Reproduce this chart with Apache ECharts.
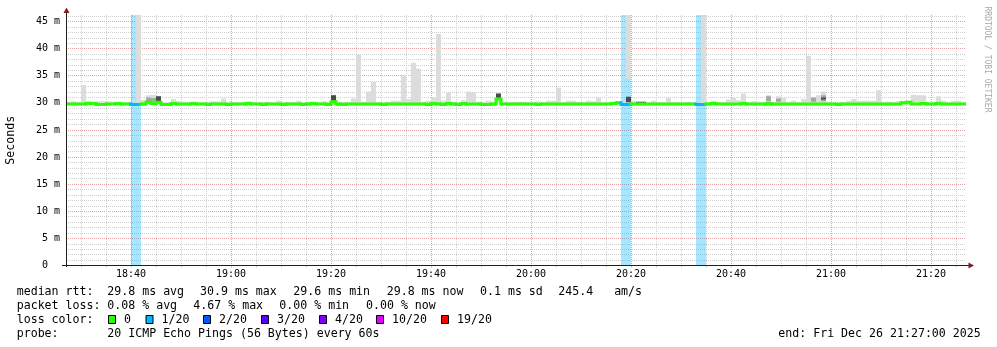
<!DOCTYPE html>
<html><head><meta charset="utf-8">
<script src="https://cdn.jsdelivr.net/npm/echarts@6/dist/echarts.min.js"></script>
<style>html,body{margin:0;padding:0;background:#fff}#c{width:997px;height:347px}</style>
</head><body><div id="c"></div>
<script>
// ---- time categories: one per minute, 18:27 .. 21:27 ----
const startMinute = 18 * 60 + 27;
const timeLabels = [];
for (let i = 0; i <= 180; i++) {
  const m = startMinute + i;
  timeLabels.push(String(Math.floor(m / 60)).padStart(2, '0') + ':' + String(m % 60).padStart(2, '0'));
}
// y tick values (milliseconds)
const yTicks = [0, 5, 10, 15, 20, 25, 30, 35, 40, 45];

// ---- series values (ms), one per minute ----
const smokeMax = [
  30.2,30.3,30.2,33.3,30.4,30.2,30.3,30.3,30.3,30.2,
  30.2,30.1,30.1,30.1,46.2,30.5,31.4,31.5,31.2,30.1,
  30.1,30.7,30.3,30.2,30.1,30.2,30.1,30.1,30.2,30.3,
  30.3,30.8,30.2,30.1,30.1,30.2,30.3,30.2,30.1,30.2,
  30.2,30.1,30.4,30.2,30.1,30.1,30.4,30.1,30.2,30.2,
  30.1,30.3,30.2,31.5,30.1,30.2,30.1,30.8,38.9,30.2,
  32.1,33.9,30.1,30.1,30.2,30.4,30.4,35.1,30.7,37.4,
  36.3,30.2,30.4,31.0,42.7,30.4,31.9,30.2,30.1,30.5,
  32.1,31.9,30.2,30.2,30.4,30.1,31.7,30.2,30.2,30.2,
  30.2,30.2,30.1,30.1,30.3,30.1,30.4,30.4,32.8,30.1,
  30.4,30.4,30.2,30.1,30.4,30.3,30.9,30.1,30.1,30.1,
  30.2,30.1,46.2,30.4,30.2,30.2,30.1,30.4,30.1,30.1,
  30.9,30.1,30.1,30.1,30.2,30.1,30.1,46.2,30.1,30.4,
  30.2,30.1,30.6,30.9,30.5,31.7,30.1,30.3,30.2,30.1,
  31.4,30.1,31.2,30.9,30.1,30.4,30.1,30.7,38.7,31.0,
  31.4,32.1,30.2,30.1,30.2,30.1,30.4,30.7,30.4,30.4,
  30.4,30.4,32.3,30.1,30.2,30.1,30.3,30.1,30.4,31.5,
  31.4,31.4,30.2,30.2,31.2,30.4,30.1,30.4,30.4,30.1
];
const smokeMin = [
  29.7,29.7,29.7,29.7,29.7,29.7,29.5,29.5,29.5,29.7,
  29.7,29.7,29.7,29.7,30.0,29.7,29.7,29.7,29.7,29.7,
  29.7,29.7,29.7,29.7,29.7,29.7,29.7,29.7,29.7,29.7,
  29.7,29.7,29.7,29.7,29.7,29.7,29.7,29.7,29.7,29.7,
  29.7,29.7,29.7,29.7,29.7,29.7,29.7,29.7,29.7,29.7,
  29.7,29.7,29.7,29.5,29.5,29.7,29.7,29.7,29.7,29.7,
  29.7,29.7,29.7,29.7,29.7,29.7,29.7,29.7,29.7,29.7,
  29.7,29.7,29.7,29.7,29.7,29.7,29.7,29.7,29.7,29.7,
  29.7,29.7,29.7,29.7,29.7,29.7,29.7,29.7,29.7,29.7,
  29.7,29.7,29.7,29.7,29.7,29.7,29.7,29.7,29.7,29.7,
  29.7,29.7,29.7,29.7,29.7,29.7,29.7,29.7,29.7,29.7,
  29.7,29.7,34.5,29.7,29.5,29.5,29.7,29.7,29.7,29.7,
  29.7,29.7,29.7,29.7,29.7,29.7,29.7,30.0,29.7,29.7,
  29.7,29.7,29.7,29.7,29.7,29.7,29.7,29.5,29.7,29.7,
  29.5,29.7,29.5,29.7,29.7,29.7,29.7,29.7,29.7,29.7,
  29.5,29.7,29.7,29.7,29.7,29.7,29.7,29.7,29.7,29.7,
  29.7,29.7,29.7,29.7,29.5,29.5,29.7,29.7,29.7,29.7,
  29.7,29.7,29.7,29.7,29.7,29.7,29.7,29.7,29.7,29.7
];
const median = [
  29.8,29.8,29.8,29.8,29.9,29.9,29.7,29.7,29.8,29.8,
  29.9,29.8,29.8,29.7,29.7,29.8,30.1,29.9,30.1,29.7,
  29.7,29.9,29.8,29.8,29.8,29.9,29.8,29.8,29.7,29.8,
  29.8,29.8,29.7,29.8,29.8,29.8,29.9,29.8,29.8,29.7,
  29.8,29.8,29.8,29.7,29.8,29.8,29.8,29.7,29.8,29.9,
  29.8,29.8,29.7,30.2,29.8,29.7,29.8,29.8,29.8,29.8,
  29.8,29.8,29.8,29.7,29.8,29.8,29.8,29.8,29.8,29.8,
  29.8,29.8,29.7,29.9,29.8,29.7,29.9,29.8,29.7,29.9,
  29.8,29.8,29.8,29.7,29.7,29.8,30.7,29.8,29.8,29.8,
  29.8,29.8,29.8,29.8,29.7,29.8,29.8,29.8,29.8,29.8,
  29.8,29.8,29.8,29.8,29.8,29.8,29.8,29.8,29.8,29.9,
  30.0,29.7,29.7,29.8,29.8,29.8,29.8,29.8,29.8,29.8,
  29.8,29.8,29.8,29.8,29.8,29.8,29.7,29.7,29.8,29.9,
  29.8,29.8,29.8,29.8,29.8,29.9,29.8,29.8,29.8,29.8,
  29.9,29.8,29.8,29.8,29.8,29.8,29.8,29.8,29.8,29.8,
  29.8,29.8,29.8,29.8,29.7,29.8,29.8,29.8,29.8,29.8,
  29.8,29.8,29.8,29.8,29.8,29.8,29.8,30.0,30.1,29.8,
  29.8,29.9,29.8,29.8,29.9,29.8,29.8,29.8,29.8,29.8
];
// lost pings (of 20) per minute
const loss = [
  0,0,0,0,0,0,0,0,0,0, 0,0,0,1,1,0,0,0,0,0,
  0,0,0,0,0,0,0,0,0,0, 0,0,0,0,0,0,0,0,0,0,
  0,0,0,0,0,0,0,0,0,0, 0,0,0,0,0,0,0,0,0,0,
  0,0,0,0,0,0,0,0,0,0, 0,0,0,0,0,0,0,0,0,0,
  0,0,0,0,0,0,0,0,0,0, 0,0,0,0,0,0,0,0,0,0,
  0,0,0,0,0,0,0,0,0,0, 0,1,1,0,0,0,0,0,0,0,
  0,0,0,0,0,0,1,1,0,0, 0,0,0,0,0,0,0,0,0,0,
  0,0,0,0,0,0,0,0,0,0, 0,0,0,0,0,0,0,0,0,0,
  0,0,0,0,0,0,0,0,0,0, 0,0,0,0,0,0,0,0,0,0
];
// denser ping clusters inside the smoke: [minute index, low, high]
const smokeMid = [[16,30.2,31.0],[17,30.2,30.9],[140,30.3,31.2],[142,30.2,30.8],[149,30.2,31.0],[151,30.3,31.4]];
const smokeDark = [[18,30.3,31.2],[53,30.4,31.4],[86,30.9,31.7],[112,30.1,31.1],[151,30.6,31.0],[114,30.0,30.2],[115,30.0,30.2]];

// loss legend
const lossLevels = [0, 1, 2, 3, 4, 10, 19];
const lossLabels = ['0', '1/20', '2/20', '3/20', '4/20', '10/20', '19/20'];
const lossColors = ['#26ff00', '#00b8ff', '#0059ff', '#5e00ff', '#7e00ff', '#dd00ff', '#ff0000'];

function lossColor(n) {
  let c = lossColors[0];
  for (let k = 0; k < lossLevels.length; k++) if (n >= lossLevels[k]) c = lossColors[k];
  return c;
}
function hexA(hex, a) {
  const r = parseInt(hex.slice(1, 3), 16), g = parseInt(hex.slice(3, 5), 16), b = parseInt(hex.slice(5, 7), 16);
  return 'rgba(' + r + ',' + g + ',' + b + ',' + a + ')';
}

const YMAX = 46.2;
const MONO = '"DejaVu Sans Mono", monospace';

function minuteOf(label) { const p = label.split(':'); return (+p[0]) * 60 + (+p[1]); }

function bandRender(colorFn) {
  return function (params, api) {
    const i = api.value(0), lo = api.value(1), hi = api.value(2);
    const a = api.coord([i, hi]);
    const b = api.coord([i + 1, lo]);
    return { type: 'rect', shape: { x: a[0], y: a[1], width: b[0] - a[0], height: b[1] - a[1] },
      style: { fill: colorFn(api) } };
  };
}

const lossData = [], smokeData = [], medianData = [];
for (let i = 0; i < 180; i++) {
  if (loss[i] > 0) lossData.push([i, 0, YMAX, loss[i]]);
  smokeData.push([i, smokeMin[i], smokeMax[i]]);
  medianData.push([i, median[i], loss[i], i > 0 ? median[i - 1] : median[i]]);
}

const chart = echarts.init(document.getElementById('c'), null, { renderer: 'canvas' });

const PINK = '#e7a3a3';
const GREY = '#cfcfcf';

// legend graphics
const graphics = [];
function txt(x, y, s, extra) {
  graphics.push(Object.assign({ type: 'text', x: x, y: y, z: 100,
    style: { text: s, font: '11.6px ' + MONO, fill: '#000', verticalAlign: 'middle' } }, extra || {}));
}
const L1 = 291.6, L2 = 305.7, L3 = 319.7, L4 = 333.8;
txt(16.7, L1, 'median rtt:'); txt(107.3, L1, '29.8 ms avg'); txt(200, L1, '30.9 ms max');
txt(293.3, L1, '29.6 ms min'); txt(386.7, L1, '29.8 ms now'); txt(480, L1, '0.1 ms sd'); txt(558.3, L1, '245.4   am/s');
txt(16.7, L2, 'packet loss:'); txt(107.3, L2, '0.08 % avg'); txt(193.3, L2, '4.67 % max');
txt(279.3, L2, '0.00 % min'); txt(366, L2, '0.00 % now');
txt(16.7, L3, 'loss color:');
const boxX = [108.5, 146, 203.5, 261.5, 319.5, 376.5, 441.5];
for (let k = 0; k < lossColors.length; k++) {
  graphics.push({ type: 'rect', z: 100, shape: { x: boxX[k], y: 315.5, width: 7, height: 8 },
    style: { fill: lossColors[k], stroke: '#000', lineWidth: 1 } });
  txt(boxX[k] + 15.5, L3, lossLabels[k]);
}
txt(16.7, L4, 'probe:'); txt(107.3, L4, '20 ICMP Echo Pings (56 Bytes) every 60s');
txt(778.3, L4, 'end: Fri Dec 26 21:27:00 2025');
// axis lines and arrows
graphics.push({ type: 'line', z: 100, shape: { x1: 66.5, y1: 267, x2: 66.5, y2: 12 }, style: { stroke: '#1f1f1f', lineWidth: 1 } });
graphics.push({ type: 'line', z: 100, shape: { x1: 62, y1: 265.5, x2: 969, y2: 265.5 }, style: { stroke: '#1f1f1f', lineWidth: 1 } });
graphics.push({ type: 'polygon', z: 101, shape: { points: [[63.5, 13], [69.5, 13], [66.5, 7.5]] }, style: { fill: '#801f1f' } });
graphics.push({ type: 'polygon', z: 101, shape: { points: [[968.5, 262.5], [968.5, 268.5], [974, 265.5]] }, style: { fill: '#801f1f' } });
// watermark
graphics.push({ type: 'text', x: 987, y: 59.5, rotation: -Math.PI / 2, z: 100,
  style: { text: 'RRDTOOL / TOBI OETIKER', font: '8px ' + MONO, fill: '#a8a8a8', align: 'center', verticalAlign: 'middle' } });

const ySplitColors = yTicks.map(() => PINK).concat(['rgba(0,0,0,0)', 'rgba(0,0,0,0)']);

chart.setOption({
  animation: false,
  backgroundColor: '#fff',
  grid: { left: 66, top: 15, width: 900, height: 250.5, containLabel: false, outerBoundsMode: 'none' },
  xAxis: [{
    type: 'category', data: timeLabels, boundaryGap: false, position: 'bottom',
    axisLine: { show: false },
    axisTick: { show: true, length: 2, interval: (i, v) => minuteOf(v) % 5 === 0, lineStyle: { color: '#c8c8c8' } },
    axisLabel: { interval: (i, v) => minuteOf(v) % 20 === 0, margin: 4, fontFamily: MONO, fontSize: 10, color: '#000' },
    splitLine: { show: true, interval: (i, v) => minuteOf(v) % 5 === 0 && minuteOf(v) % 20 !== 0,
      lineStyle: { color: GREY, width: 1, type: [1, 1] } }
  }, {
    type: 'category', data: timeLabels, boundaryGap: false, position: 'top',
    axisLine: { show: false }, axisTick: { show: false }, axisLabel: { show: false },
    splitLine: { show: true, interval: (i, v) => minuteOf(v) % 20 === 0,
      lineStyle: { color: PINK, width: 1, type: [1, 1] } }
  }],
  yAxis: {
    type: 'value', min: 0, max: YMAX, interval: 5,
    name: 'Seconds', nameLocation: 'middle', nameGap: 49, nameRotate: 90,
    nameTextStyle: { fontFamily: MONO, fontSize: 11.6, color: '#000' },
    axisLine: { show: false }, axisTick: { show: false },
    axisLabel: { margin: 6, fontFamily: MONO, fontSize: 10, color: '#000',
      formatter: v => (yTicks.indexOf(v) < 0 ? '' : (v === 0 ? '0  ' : v + ' m')) },
    splitLine: { show: true, lineStyle: { color: ySplitColors, width: 1, type: [1, 1] } },
    minorTick: { show: false, splitNumber: 5 },
    minorSplitLine: { show: true, lineStyle: { color: GREY, width: 1, type: [1, 1] } }
  },
  graphic: graphics,
  series: [
    { type: 'custom', name: 'loss', data: lossData, encode: { x: 0, y: [1, 2] }, z: 2, clip: true,
      renderItem: bandRender(api => hexA(lossColor(api.value(3)), 0.35)) },
    { type: 'custom', name: 'smoke', data: smokeData, encode: { x: 0, y: [1, 2] }, z: 3, clip: true,
      renderItem: bandRender(() => '#dcdcdc') },
    { type: 'custom', name: 'smoke mid', data: smokeMid, encode: { x: 0, y: [1, 2] }, z: 4, clip: true,
      renderItem: bandRender(() => '#a6a6a6') },
    { type: 'custom', name: 'smoke dark', data: smokeDark, encode: { x: 0, y: [1, 2] }, z: 5, clip: true,
      renderItem: bandRender(() => '#4a4a4a') },
    { type: 'custom', name: 'median', data: medianData, encode: { x: 0, y: 1 }, z: 6, clip: true,
      renderItem: function (params, api) {
        const i = api.value(0), m = api.value(1), n = api.value(2), prev = api.value(3);
        const a = api.coord([i, m]), b = api.coord([i + 1, m]), p = api.coord([i, prev]);
        const col = lossColor(n);
        const children = [{ type: 'rect', shape: { x: a[0], y: a[1] - 1.5, width: b[0] - a[0], height: 3 }, style: { fill: col } }];
        if (Math.abs(p[1] - a[1]) > 0.5) {
          const top = Math.min(p[1], a[1]) - 1.5, h = Math.abs(p[1] - a[1]) + 3;
          children.push({ type: 'rect', shape: { x: a[0] - 1.5, y: top, width: 3, height: h }, style: { fill: col } });
        }
        return { type: 'group', children: children };
      } }
  ]
});
</script></body></html>
